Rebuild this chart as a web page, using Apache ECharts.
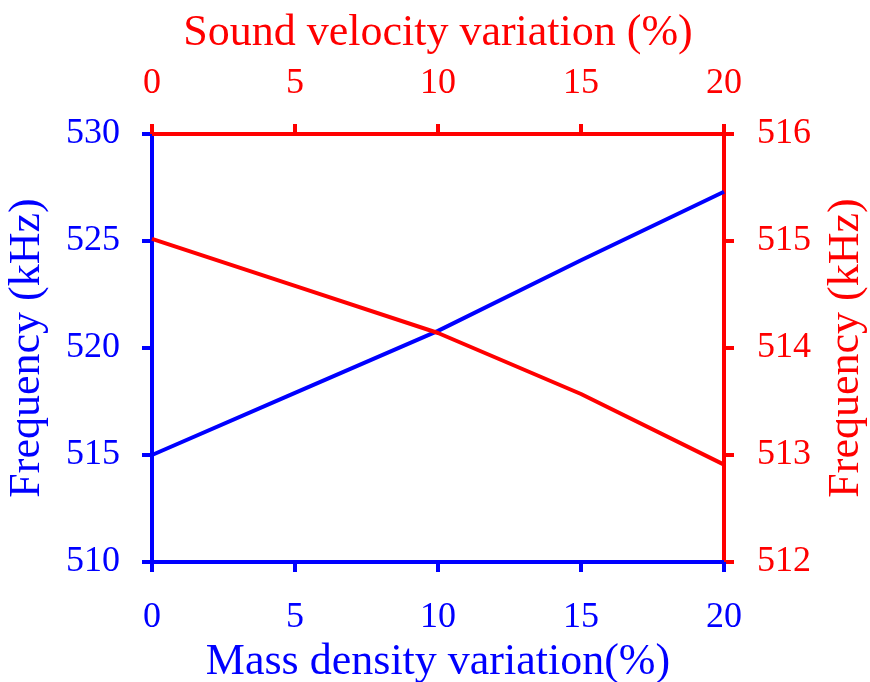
<!DOCTYPE html>
<html><head><meta charset="utf-8">
<script src="https://cdn.jsdelivr.net/npm/echarts@6/dist/echarts.min.js"></script>
<style>html,body{margin:0;padding:0;background:#fff}#c{width:870px;height:682px}</style>
</head><body><div id="c"></div>
<script>
const massX = [0, 5, 10, 15, 20];
const massFreq = [515.0, 517.9, 520.8, 524.1, 527.3];
const velX = [0, 5, 10, 15, 20];
const velFreq = [515.02, 514.58, 514.14, 513.57, 512.91];
const BLUE = '#0000ff', RED = '#ff0000';
const FONT = 'Liberation Serif';
const NAME_SIZE = 44, LABEL_SIZE = 36;
function xa(color, pos, name, gap, margin){
  return {type:'value', position:pos, min:0, max:20, interval:5, name:name,
    nameLocation:'middle', nameGap:gap,
    nameTextStyle:{color:color, fontFamily:FONT, fontSize:NAME_SIZE},
    axisLine:{onZero:false, lineStyle:{color:color, width:4}},
    axisTick:{inside:false, length:10, lineStyle:{color:color, width:4}},
    axisLabel:{color:color, fontFamily:FONT, fontSize:LABEL_SIZE, margin:margin},
    splitLine:{show:false}};
}
function ya(color, pos, min, max, interval, name, gap, margin){
  return {type:'value', position:pos, min:min, max:max, interval:interval, name:name,
    nameLocation:'middle', nameGap:gap,
    nameTextStyle:{color:color, fontFamily:FONT, fontSize:NAME_SIZE},
    axisLine:{show:true, onZero:false, lineStyle:{color:color, width:4}},
    axisTick:{show:true, inside:false, length:10, lineStyle:{color:color, width:4}},
    axisLabel:{color:color, fontFamily:FONT, fontSize:LABEL_SIZE, margin:margin},
    splitLine:{show:false}};
}
const chart = echarts.init(document.getElementById('c'));
chart.setOption({
  animation:false,
  backgroundColor:'#fff',
  grid:{left:152, right:146, top:134, bottom:120, containLabel:false, outerBoundsMode:'none'},
  xAxis:[xa(BLUE,'bottom','Mass density variation(%)',74,38), xa(RED,'top','Sound velocity variation (%)',79,32)],
  yAxis:[ya(BLUE,'left',510,530,5,'Frequency (kHz)',103,32), ya(RED,'right',512,516,1,'Frequency (kHz)',100,33)],
  series:[
    {type:'line', xAxisIndex:0, yAxisIndex:0, data:massX.map((x,i)=>[x,massFreq[i]]),
     showSymbol:false, lineStyle:{color:BLUE, width:4}, itemStyle:{color:BLUE}},
    {type:'line', xAxisIndex:1, yAxisIndex:1, data:velX.map((x,i)=>[x,velFreq[i]]),
     showSymbol:false, lineStyle:{color:RED, width:4}, itemStyle:{color:RED}}
  ]
});
</script></body></html>
